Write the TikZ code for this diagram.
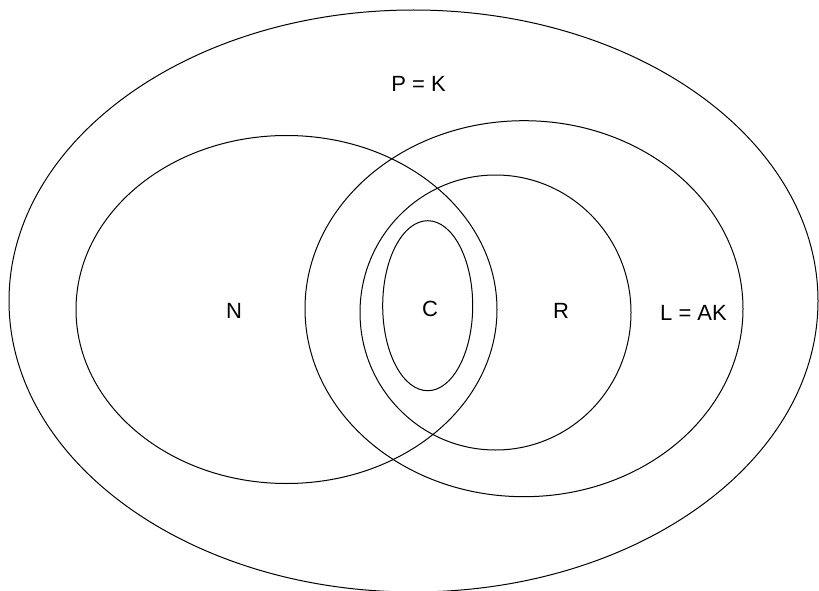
\documentclass[tikz,border=0pt]{standalone}
\usepackage{fontspec}
\setmainfont{Liberation Sans}
\begin{document}
\begin{tikzpicture}[x=1pt,y=-1pt,
  setline/.style={draw=black,line width=1pt},
  lbl/.style={font=\fontsize{22}{26}\selectfont,inner sep=0pt}]
\useasboundingbox (0,0) rectangle (819,591);
\draw[setline] (413.5,301) ellipse [x radius=404.5,y radius=291];
\draw[setline] (286.5,309.5) ellipse [x radius=210.5,y radius=174];
\draw[setline] (524,308.7) ellipse [x radius=219,y radius=188];
\draw[setline] (495.5,312.5) ellipse [x radius=135.5,y radius=137.5];
\draw[setline] (427.7,305.7) ellipse [x radius=45,y radius=85];
\node[lbl] (pk) at (418.5,84) {P = K};
\node[lbl] (n) at (234,311) {N};
\node[lbl] (c) at (430,308.5) {C};
\node[lbl] (r) at (561,311) {R};
\node[lbl] (lak) at (693.5,313) {L = AK};
\end{tikzpicture}
\end{document}
